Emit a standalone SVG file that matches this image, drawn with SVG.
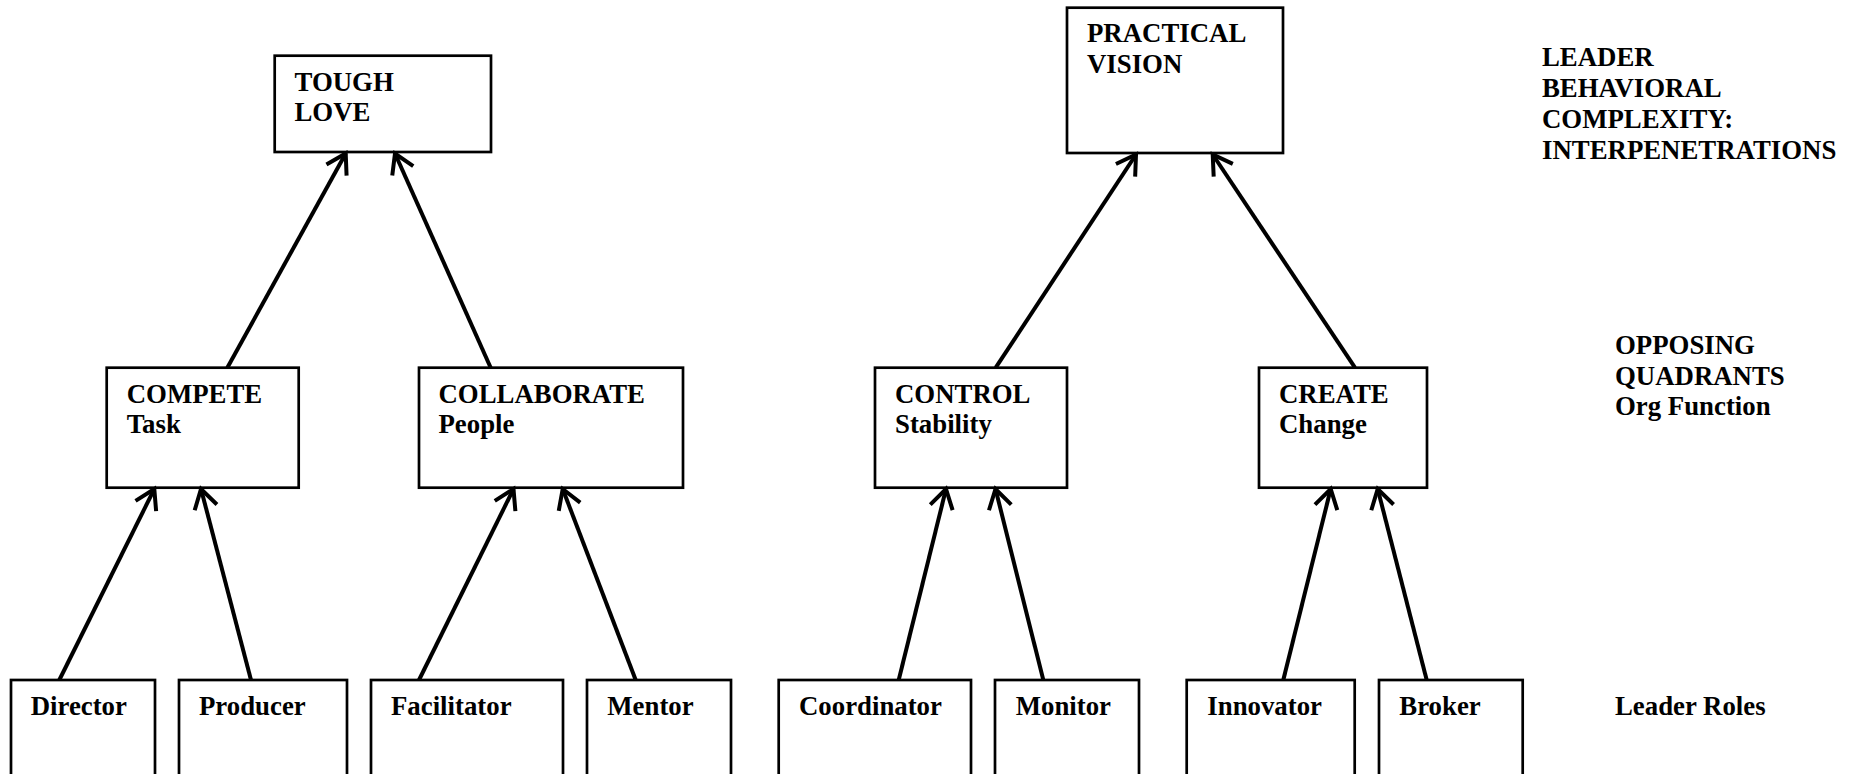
<svg xmlns="http://www.w3.org/2000/svg" width="1860" height="774" viewBox="0 0 1860 774">
  <style>
    .box { fill: #ffffff; stroke: #000000; stroke-width: 2.7; }
    .lbl { font-family: "Liberation Serif", "Times New Roman", serif; font-weight: bold; font-size: 26.8px; fill: #000000; }
    .link { stroke: #000000; stroke-width: 4; fill: none; marker-end: url(#openArrow); }
  </style>
  <defs>
    <marker id="openArrow" markerUnits="userSpaceOnUse" viewBox="-24 -14 28 28" refX="-2" refY="0" markerWidth="28" markerHeight="28" orient="auto">
      <path d="M -21,-11.5 L -2,0 L -21,11.5" fill="none" stroke="#000000" stroke-width="4" stroke-linejoin="miter" stroke-linecap="butt"/>
    </marker>
  </defs>
  <rect width="1860" height="774" fill="#ffffff"/>

  <!-- top tier -->
  <g id="tough-love">
    <rect class="box" x="274.7" y="55.7" width="216.3" height="96.3"/>
    <text class="lbl" x="294.5" y="90.7">TOUGH</text>
    <text class="lbl" x="294.5" y="121.2">LOVE</text>
  </g>
  <g id="practical-vision">
    <rect class="box" x="1067" y="7.7" width="216" height="145.3"/>
    <text class="lbl" x="1087" y="42.3">PRACTICAL</text>
    <text class="lbl" x="1087" y="72.8">VISION</text>
  </g>

  <!-- opposing quadrants -->
  <g id="compete">
    <rect class="box" x="106.7" y="367.7" width="192" height="120"/>
    <text class="lbl" x="126.7" y="402.7">COMPETE</text>
    <text class="lbl" x="126.7" y="433.2">Task</text>
  </g>
  <g id="collaborate">
    <rect class="box" x="419" y="367.7" width="264" height="120"/>
    <text class="lbl" x="438.5" y="402.7">COLLABORATE</text>
    <text class="lbl" x="438.5" y="433.2">People</text>
  </g>
  <g id="control">
    <rect class="box" x="875" y="367.7" width="192" height="120"/>
    <text class="lbl" x="895" y="402.7">CONTROL</text>
    <text class="lbl" x="895" y="433.2">Stability</text>
  </g>
  <g id="create">
    <rect class="box" x="1259" y="367.7" width="168" height="120"/>
    <text class="lbl" x="1279" y="402.7">CREATE</text>
    <text class="lbl" x="1279" y="433.2">Change</text>
  </g>

  <!-- leader roles -->
  <g id="director">
    <rect class="box" x="11" y="680" width="144" height="120"/>
    <text class="lbl" x="30.7" y="715">Director</text>
  </g>
  <g id="producer">
    <rect class="box" x="179" y="680" width="168" height="120"/>
    <text class="lbl" x="199" y="715">Producer</text>
  </g>
  <g id="facilitator">
    <rect class="box" x="371" y="680" width="192" height="120"/>
    <text class="lbl" x="391" y="715">Facilitator</text>
  </g>
  <g id="mentor">
    <rect class="box" x="587" y="680" width="144" height="120"/>
    <text class="lbl" x="607.3" y="715">Mentor</text>
  </g>
  <g id="coordinator">
    <rect class="box" x="778.7" y="680" width="192.3" height="120"/>
    <text class="lbl" x="799" y="715">Coordinator</text>
  </g>
  <g id="monitor">
    <rect class="box" x="995" y="680" width="144" height="120"/>
    <text class="lbl" x="1015.7" y="715">Monitor</text>
  </g>
  <g id="innovator">
    <rect class="box" x="1186.7" y="680" width="168" height="120"/>
    <text class="lbl" x="1207.3" y="715">Innovator</text>
  </g>
  <g id="broker">
    <rect class="box" x="1379" y="680" width="143.7" height="120"/>
    <text class="lbl" x="1399.3" y="715">Broker</text>
  </g>

  <!-- tier captions -->
  <g id="caption-complexity">
    <text class="lbl" x="1542" y="65.7">LEADER</text>
    <text class="lbl" x="1542" y="96.7">BEHAVIORAL</text>
    <text class="lbl" x="1542" y="127.7">COMPLEXITY:</text>
    <text class="lbl" x="1542" y="158.7">INTERPENETRATIONS</text>
  </g>
  <g id="caption-quadrants">
    <text class="lbl" x="1615" y="354">OPPOSING</text>
    <text class="lbl" x="1615" y="384.5">QUADRANTS</text>
    <text class="lbl" x="1615" y="415">Org Function</text>
  </g>
  <g id="caption-roles">
    <text class="lbl" x="1615" y="715">Leader Roles</text>
  </g>

  <!-- connectors -->
  <g id="connectors">
    <line class="link" x1="59.3" y1="680" x2="154.3" y2="489"/>
    <line class="link" x1="251" y1="680" x2="201" y2="489"/>
    <line class="link" x1="419" y1="680" x2="513.5" y2="489"/>
    <line class="link" x1="635.7" y1="680" x2="562.7" y2="489"/>
    <line class="link" x1="898.7" y1="680" x2="946" y2="489"/>
    <line class="link" x1="1043.3" y1="680" x2="995.5" y2="489"/>
    <line class="link" x1="1283.3" y1="680" x2="1330.7" y2="489"/>
    <line class="link" x1="1426.7" y1="680" x2="1377.7" y2="489"/>
    <line class="link" x1="227.3" y1="367.7" x2="345.7" y2="153.5"/>
    <line class="link" x1="490.7" y1="367.7" x2="395" y2="153.5"/>
    <line class="link" x1="995.7" y1="367.7" x2="1136" y2="154.5"/>
    <line class="link" x1="1355" y1="367.7" x2="1212.7" y2="154.5"/>
  </g>
</svg>
